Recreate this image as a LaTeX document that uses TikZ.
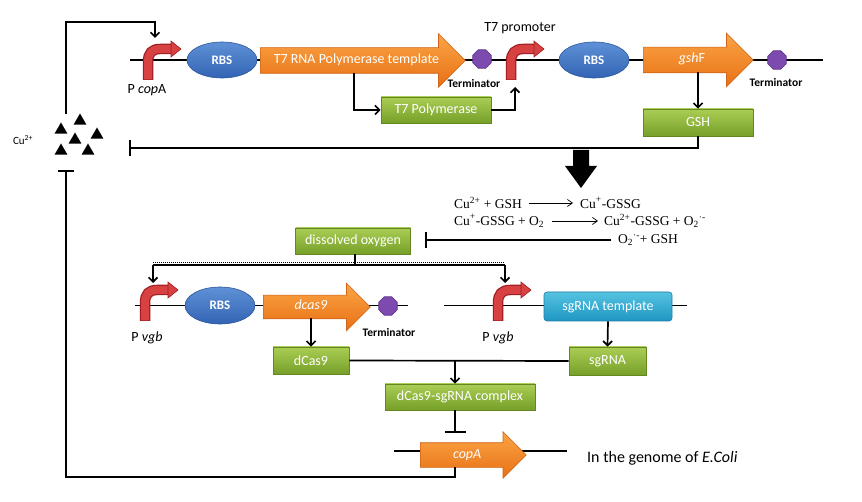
\documentclass[tikz,border=0pt]{standalone}
\usepackage{fontspec}
\setmainfont{Carlito}
\newfontfamily\rxfont{Liberation Serif}
\usetikzlibrary{shapes.geometric,shapes.arrows,arrows.meta,calc}
\definecolor{orT}{RGB}{250,165,70}
\definecolor{orB}{RGB}{232,112,20}
\definecolor{orD}{RGB}{205,100,25}
\definecolor{grT}{RGB}{170,205,85}
\definecolor{grB}{RGB}{118,160,40}
\definecolor{grD}{RGB}{100,135,35}
\definecolor{blT}{RGB}{95,145,215}
\definecolor{blB}{RGB}{50,100,180}
\definecolor{blD}{RGB}{45,85,155}
\definecolor{rdT}{RGB}{215,65,65}
\definecolor{rdD}{RGB}{160,30,35}
\definecolor{puF}{RGB}{125,75,175}
\definecolor{puD}{RGB}{90,50,135}
\definecolor{cyT}{RGB}{85,195,225}
\definecolor{cyB}{RGB}{30,150,195}
\definecolor{cyD}{RGB}{30,125,165}
\tikzset{
  promoter/.pic={
    \draw[line width=10.5pt, draw=rdD] (0,0) -- (0,-18) .. controls (0,-27) and (4,-31) .. (12,-31) -- (24,-31);
    \draw[line width=8pt, draw=rdT] (0,-0.7) -- (0,-18) .. controls (0,-27) and (4,-31) .. (12,-31) -- (24,-31);
    \filldraw[fill=rdT, draw=rdD, line width=0.6pt] (23,-39) -- (33,-31) -- (23,-23) -- cycle;
  }
}
\begin{document}
\begin{tikzpicture}[x=1pt,y=-1pt,
  dna/.style={line width=1.3pt},
  ln/.style={line width=1.7pt},
  conn/.style={ln,-{Straight Barb[length=4.5pt,width=9pt]}},
  inh/.style={ln,-{Bar[width=16pt]}},
  gene/.style={single arrow, single arrow tip angle=90, inner xsep=0pt, text height=9pt, text depth=3pt, top color=orT, bottom color=orB, draw=orD, line width=0.6pt, text=white, font=\fontsize{14}{16}\selectfont},
  rbs/.style={ellipse, minimum width=70pt, minimum height=36pt, inner sep=0pt, top color=blT, bottom color=blB, draw=blD, line width=0.6pt, text=white, font=\bfseries\fontsize{13}{15}\selectfont},
  term/.style={regular polygon, regular polygon sides=8, minimum size=20pt, inner sep=0pt, fill=puF, draw=puD, line width=0.6pt},
  prot/.style={rectangle, inner sep=0pt, top color=grT, bottom color=grB, draw=grD, line width=0.6pt, text=white, font=\fontsize{14}{16}\selectfont},
  tmpl/.style={rectangle, rounded corners=3pt, inner sep=0pt, top color=cyT, bottom color=cyB, draw=cyD, line width=0.6pt, text=white, font=\fontsize{14}{16}\selectfont},
  lab/.style={inner sep=0pt, font=\fontsize{14}{16}\selectfont},
  tlab/.style={inner sep=0pt, font=\bfseries\fontsize{11.5}{13}\selectfont},
  cu/.style={regular polygon, regular polygon sides=3, minimum size=15pt, inner sep=0pt, fill=black},
  rx/.style={inner sep=1pt, anchor=west, font=\rxfont\fontsize{13.5}{15}\selectfont},
  rxa/.style={line width=0.7pt, -{Straight Barb[length=5pt,width=7pt]}}
]
\useasboundingbox[fill=white] (0,0) rectangle (862,502);

% ---------- DNA backbones ----------
\draw[dna] (130,60) -- (823,60);
\draw[dna] (135,305.5) -- (408,305.5);
\draw[dna] (444,305.5) -- (687,305.5);
\draw[dna] (394,451) -- (567,451);

% ---------- top construct ----------
\pic at (148,80) {promoter};
\node[lab] (pcopaL) at (147,90) {P \textit{cop}A};
\node[rbs] (rbs1) at (222,60) {RBS};
\node[gene, inner ysep=6.5pt, minimum height=205pt, minimum width=53pt, single arrow head extend=14pt, anchor=tail] (t7rna) at (260,60.5) {T7 RNA Polymerase template};
\node[term] (term1) at (482,59) {};
\node[tlab] (term1L) at (474,84) {Terminator};
\pic at (511,80) {promoter};
\node[lab] (t7promL) at (520,28) {T7 promoter};
\node[rbs] (rbs2) at (594,60) {RBS};
\node[gene, inner ysep=6.5pt, minimum height=110pt, minimum width=53pt, single arrow head extend=14pt, anchor=tail] (gshf) at (643,60) {\textit{gsh}F};
\node[term] (term2) at (777,60) {};
\node[tlab] (term2L) at (776,83) {Terminator};

\node[prot, minimum width=110pt, minimum height=26pt] (t7pol) at (436,110) {T7 Polymerase};
\node[prot, minimum width=110pt, minimum height=27pt] (gsh) at (698,122.5) {GSH};

\coordinate (t7out) at ($(t7rna.tail)+(94,12.5)$);
\coordinate (t7promin) at (515,87);
\draw[conn] (t7out) |- (t7pol.west);
\draw[conn] (t7pol.east) -| (t7promin);
\draw[conn] ($(gshf.tail)+(55,12.5)$) -- (gsh.north);

% ---------- copper ----------
\node[cu] (cu1) at (61,130) {};
\node[cu] (cu2) at (80,121) {};
\node[cu] (cu3) at (97,135) {};
\node[cu] (cu4) at (75,140) {};
\node[cu] (cu5) at (61,151) {};
\node[cu] (cu6) at (88,151) {};
\node[inner sep=0pt, font=\fontsize{11}{13}\selectfont] (cuL) at (23,140) {Cu\textsuperscript{2+}};
\coordinate (cuT) at (66,114);
\coordinate (cuR) at (129,148);
\coordinate (cuB) at (66,170);
\coordinate (pcopin) at (155,38);

\draw[conn] (cuT) -- ++(0,-92) -| (pcopin);
\draw[inh] (gsh.south) |- (cuR);

% ---------- big arrow ----------
\fill (573,150) -- (589,150) -- (589,166) -- (597,166) -- (581,188) -- (565,166) -- (573,166) -- cycle;

% ---------- reactions ----------
\node[rx] (r1l) at (453,203) {Cu\textsuperscript{2+} + GSH};
\node[rx] (r1r) at (579,203) {Cu\textsuperscript{+}-GSSG};
\node[rx] (r2l) at (453,221) {Cu\textsuperscript{+}-GSSG + O\textsubscript{2}};
\node[rx] (r2r) at (603,221) {Cu\textsuperscript{2+}-GSSG + O\textsubscript{2}\textsuperscript{·-}};
\node[rx] (r3) at (617,240) {O\textsubscript{2}\textsuperscript{·-}+ GSH};
\draw[rxa, shorten <=6pt, shorten >=6pt] (r1l.east) -- (r1r.west);
\draw[rxa, shorten <=7pt, shorten >=5pt] (r2l.east) -- (r2r.west);

% ---------- dissolved oxygen ----------
\node[prot, minimum width=115pt, minimum height=26pt] (do) at (353,241) {dissolved oxygen};
\draw[inh, shorten <=6pt, shorten >=14pt] (r3.west) -- (r3.west -| do.east);
\coordinate (dj) at ($(do.south)+(2,11)$);
\coordinate (pvL) at (153,265);
\coordinate (pvR) at (505,265);
\coordinate (pv1in) at (153,283);
\coordinate (pv2in) at (505,283);
\draw[ln] (do.south -| dj) -- (dj);
\draw[line width=1.3pt] (pvL) -- (pvR);
\draw[line width=1.3pt, dash pattern=on 1pt off 1pt] ($(pvL)+(0,-2.2)$) -- ($(pvR)+(0,-2.2)$);
\draw[conn] (pvL) -- (pv1in);
\draw[conn] (pvR) -- (pv2in);

% ---------- dcas9 construct ----------
\pic at (145,321) {promoter};
\node[lab] (pvgb1L) at (147,338) {P \textit{vgb}};
\node[rbs, minimum width=70pt, minimum height=37pt] (rbs3) at (220,305.5) {RBS};
\node[gene, inner ysep=5.5pt, minimum height=107pt, minimum width=47pt, single arrow head extend=12pt, anchor=tail] (dcas9) at (263,307) {\textit{dcas9}};
\node[term] (term3) at (388,306) {};
\node[tlab] (term3L) at (389,333) {Terminator};
\node[prot, minimum width=76pt, minimum height=27pt] (dcas9p) at (311,360.5) {dCas9};
\draw[conn] ($(dcas9.tail)+(48,11.5)$) -- (dcas9p.north);

% ---------- sgRNA construct ----------
\pic at (498,321) {promoter};
\node[lab] (pvgb2L) at (498,338) {P \textit{vgb}};
\node[tmpl, minimum width=128pt, minimum height=29pt] (sgt) at (608,306.5) {sgRNA template};
\node[prot, minimum width=77pt, minimum height=28pt] (sgr) at (607.5,361) {sgRNA};
\draw[conn] (sgt.south) -- (sgr.north);

% ---------- complex ----------
\node[prot, minimum width=150pt, minimum height=26pt] (cplx) at (460,397) {dCas9-sgRNA complex};
\draw[ln] (dcas9p.east) -- (sgr.west);
\coordinate (cj) at (455,361);
\draw[conn] (cj) -- (cj |- cplx.north);

% ---------- genome ----------
\node[gene, inner ysep=6pt, minimum height=106pt, minimum width=46pt, single arrow head extend=11pt, anchor=tail] (copa) at (420,455) {\textit{copA}};
\node[inner sep=0pt, anchor=west, font=\fontsize{16}{18}\selectfont] (genomeL) at (587,458) {In the genome of \textit{E.Coli}};
\coordinate (copAtop) at (455,433);
\coordinate (copAbot) at (455,467);
\draw[ln, -{Bar[width=21pt]}] (cj |- cplx.south) -- (copAtop);
\draw[inh] (copAbot) -- ++(0,10) -| (cuB);
\end{tikzpicture}
\end{document}
